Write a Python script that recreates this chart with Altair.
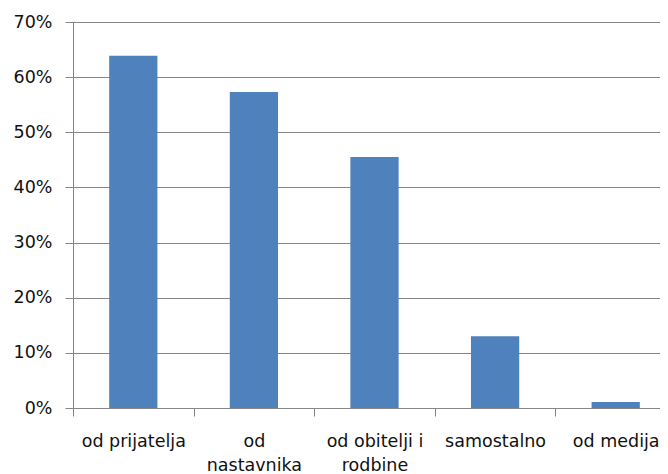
import altair as alt
import pandas as pd

categories = ["od prijatelja", "od nastavnika", "od obitelji i rodbine", "samostalno", "od medija"]
label_lines = [["od prijatelja"], ["od", "nastavnika"], ["od obitelji i", "rodbine"], ["samostalno"], ["od medija"]]
values = [0.639, 0.573, 0.455, 0.130, 0.011]
y_ticks = [0.0, 0.1, 0.2, 0.3, 0.4, 0.5, 0.6, 0.7]

df = pd.DataFrame({"kategorija": categories, "udio": values})

expr = "datum.label"
for cat, lines in zip(categories, label_lines):
    if len(lines) > 1:
        arr = "[" + ", ".join("'" + l + "'" for l in lines) + "]"
        expr = f"datum.label == '{cat}' ? {arr} : ({expr})"

FONT = "DejaVu Sans"
GRID = "#868686"

chart = alt.Chart(df).mark_bar(color="#4F81BD", width=alt.RelativeBandSize(0.4)).encode(
    x=alt.X(
        "kategorija:N",
        sort=categories,
        title=None,
        scale=alt.Scale(range=[0, 603], paddingInner=0, paddingOuter=0),
        axis=alt.Axis(
            labelAngle=0,
            labelExpr=expr,
            labelFont=FONT,
            labelFontSize=17.5,
            labelColor="#111111",
            labelLineHeight=24,
            labelPadding=16,
            labelLimit=0,
            labelOverlap=False,
            labelBound=False,
            tickBand="extent",
            tickSize=8,
            tickColor=GRID,
            domainColor=GRID,
            grid=False,
        ),
    ),
    y=alt.Y(
        "udio:Q",
        title=None,
        scale=alt.Scale(domain=[0, 0.7], nice=False),
        axis=alt.Axis(
            values=y_ticks,
            format=".0%",
            labelFont=FONT,
            labelFontSize=17.5,
            labelColor="#111111",
            labelPadding=13,
            tickSize=8,
            tickColor=GRID,
            domainColor=GRID,
            grid=True,
            gridColor=GRID,
            gridOpacity=1,
            gridWidth=1,
        ),
    ),
).properties(
    width=587,
    height=386,
    autosize=alt.AutoSizeParams(type="none"),
    padding={"left": 65, "top": 14, "right": 0, "bottom": 66},
).configure_view(stroke=None).configure(background="white")

chart.save("out.html", embed_options={"renderer": "svg", "actions": False})
